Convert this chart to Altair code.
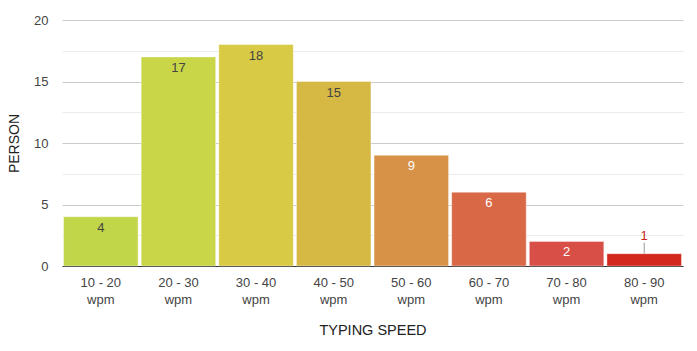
import altair as alt
import pandas as pd

categories = ["10 - 20", "20 - 30", "30 - 40", "40 - 50", "50 - 60", "60 - 70", "70 - 80", "80 - 90"]
persons = [4, 17, 18, 15, 9, 6, 2, 1]
bar_colors = ["#c2d64a", "#c9d648", "#d8ca45", "#d6b845", "#d89248", "#d96847", "#d84f47", "#d3261c"]
label_colors = ["#444444", "#444444", "#444444", "#444444", "#ffffff", "#ffffff", "#ffffff", "#d3261c"]
grid_values = [0, 2.5, 5, 7.5, 10, 12.5, 15, 17.5, 20]

df = pd.DataFrame({"speed": categories, "persons": persons})

FONT = "Liberation Sans"

xaxis = alt.Axis(labelAngle=0, labelExpr="[datum.label, 'wpm']", labelFontSize=13,
                 labelColor="#444444", labelFont=FONT, labelPadding=10, labelLineHeight=17,
                 ticks=False, grid=False, domainColor="#333333", domainWidth=1,
                 titleFont=FONT, titleFontSize=14.5, titleFontWeight="normal",
                 titleColor="#222222", titlePadding=17)
xscale = alt.Scale(paddingInner=0.04, paddingOuter=0.02)

yaxis = alt.Axis(values=grid_values, ticks=False, domain=False,
                 gridColor={"expr": "datum.value % 5 === 0 ? '#cccccc' : '#ebebeb'"},
                 labelExpr="datum.value % 5 === 0 ? datum.label : ''",
                 labelFontSize=13, labelColor="#444444",
                 labelFont=FONT, labelPadding=14, titleFont=FONT, titleFontSize=14,
                 titleFontWeight="normal", titleColor="#222222", titlePadding=12)
yscale = alt.Scale(domain=[0, 20], nice=False)

X = alt.X("speed:N", sort=categories, title="TYPING SPEED", axis=xaxis, scale=xscale)
Y = alt.Y("persons:Q", title="PERSON", axis=yaxis, scale=yscale)

bars = alt.Chart(df).mark_bar(stroke="white", strokeWidth=1, strokeOpacity=0.4).encode(
    x=X, y=Y,
    color=alt.Color("speed:N", scale=alt.Scale(domain=categories, range=bar_colors), legend=None),
)

inside = alt.Chart(df).transform_filter("datum.persons >= 2").mark_text(
    baseline="middle", dy=11, fontSize=13, font=FONT
).encode(
    x=X, y=Y,
    text="persons:Q",
    color=alt.Color("speed:N", scale=alt.Scale(domain=categories, range=label_colors), legend=None),
)

outside = alt.Chart(df).transform_filter("datum.persons < 2").mark_text(
    baseline="middle", dy=-18, fontSize=13, font=FONT, fill="#cc2418"
).encode(
    x=X, y=Y,
    text="persons:Q",
)

leader = alt.Chart(df).transform_filter("datum.persons < 2").mark_rule(
    color="#999999", strokeWidth=1, y2Offset=-11
).encode(
    x=X, y=Y,
    y2=alt.Y2("persons"),
)

chart = alt.layer(bars, leader, inside, outside).resolve_scale(color="independent").properties(
    width=621, height=246,
    background="white",
    autosize=alt.AutoSizeParams(type="none"),
    padding={"left": 62, "top": 20, "right": 14, "bottom": 85},
).configure_view(stroke="transparent", strokeWidth=0)

chart.save("out.html", embed_options={"renderer": "svg", "actions": False})
